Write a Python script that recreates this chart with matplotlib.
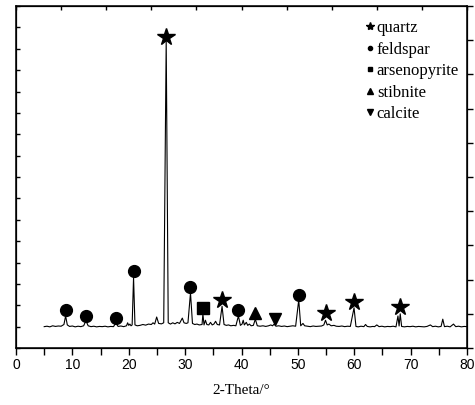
"""
XRD pattern of the ore sample with phase markers.
"""
import matplotlib
matplotlib.use('Agg')
import matplotlib.pyplot as plt
from matplotlib.lines import Line2D

# measured trace (2-theta in degrees, intensity in counts)
two_theta = [5.0, 5.5, 6.0, 6.5, 7.0, 7.5, 8.0, 8.5, 8.8, 9.1, 9.5, 10.0, 10.5, 11.0,
             11.5, 12.0, 12.4, 12.8, 13.3, 13.8, 14.3, 14.8, 15.3, 15.8, 16.3, 16.8,
             17.3, 17.7, 18.1, 18.6, 19.1, 19.6, 19.8, 20.0, 20.2, 20.4, 20.6, 20.85,
             21.1, 21.5, 22.0, 22.5, 23.0, 23.5, 24.0, 24.3, 24.6, 24.95, 25.3, 25.8,
             26.2, 26.64, 27.0, 27.4, 27.8, 28.2, 28.6, 29.0, 29.5, 29.8, 30.2, 30.5,
             30.95, 31.3, 31.7, 32.1, 32.5, 33.0, 33.15, 33.35, 33.6, 33.85, 34.2, 34.5,
             34.8, 35.1, 35.4, 35.7, 36.1, 36.55, 36.9, 37.3, 37.7, 38.1, 38.6, 39.0,
             39.45, 39.8, 40.1, 40.3, 40.5, 40.85, 41.1, 41.4, 41.7, 42.1, 42.45, 42.8,
             43.3, 43.8, 44.3, 44.8, 45.2, 45.5, 45.8, 46.1, 46.6, 47.1, 47.6, 48.1,
             48.6, 49.1, 49.6, 50.15, 50.5, 50.9, 51.2, 51.7, 52.2, 52.7, 53.2, 53.7,
             54.2, 54.6, 54.9, 55.2, 55.5, 55.9, 56.4, 56.8, 57.3, 57.8, 58.3, 58.8,
             59.3, 59.96, 60.3, 60.7, 61.2, 61.7, 62.0, 62.3, 62.8, 63.3, 63.6, 64.0,
             64.4, 64.9, 65.4, 65.9, 66.4, 66.9, 67.4, 67.75, 67.95, 68.15, 68.4, 68.9,
             69.4, 69.9, 70.4, 70.9, 71.4, 71.9, 72.4, 72.9, 73.5, 73.9, 74.4, 74.9,
             75.4, 75.7, 76.0, 76.5, 77.0, 77.6, 78.0, 78.5, 79.0, 79.5, 80.0]
intensity = [100, 102, 99, 104, 101, 103, 102, 110, 150, 108, 101, 103, 99, 102,
             100, 104, 128, 104, 100, 102, 99, 101, 100, 102, 99, 101,
             100, 118, 101, 103, 100, 104, 118, 106, 112, 104, 108, 330,
             108, 104, 106, 110, 107, 112, 110, 118, 112, 145, 115, 113,
             118, 1440, 118, 112, 118, 113, 120, 115, 140, 118, 115, 118,
             258, 115, 110, 112, 108, 110, 160, 108, 130, 110, 108, 120,
             108, 112, 125, 110, 108, 195, 110, 106, 108, 104, 106, 104,
             150, 106, 112, 130, 108, 120, 106, 112, 104, 106, 135, 104,
             102, 104, 101, 104, 108, 104, 112, 102, 104, 101, 103, 100,
             102, 104, 102, 225, 104, 115, 104, 102, 100, 103, 101, 102,
             103, 108, 130, 108, 112, 104, 106, 102, 101, 103, 100, 102,
             101, 188, 101, 99, 102, 100, 110, 101, 99, 101, 100, 108,
             100, 102, 99, 101, 100, 102, 99, 150, 103, 160, 101, 99,
             101, 100, 102, 99, 101, 100, 99, 101, 108, 100, 102, 99,
             101, 135, 100, 102, 99, 112, 100, 102, 99, 101, 100]

# phase markers (2-theta, marker height)
quartz_x = [26.64, 36.55, 54.9, 59.96, 68.15]
quartz_y = [1455, 225, 164, 215, 192]
feldspar_x = [8.8, 12.4, 17.7, 20.85, 30.95, 39.45, 50.15]
feldspar_y = [178, 150, 140, 360, 285, 178, 248]
arsenopyrite_x = [33.15]
arsenopyrite_y = [187]
stibnite_x = [42.45]
stibnite_y = [164]
calcite_x = [45.9]
calcite_y = [136]

serif = ['Liberation Serif', 'DejaVu Serif']

fig = plt.figure(figsize=(4.75, 4.05), dpi=100)
ax = fig.add_axes([0.0337, 0.1407, 0.9495, 0.8444])

ax.plot(two_theta, intensity, color='black', linewidth=0.8)

ax.plot(quartz_x, quartz_y, '*', color='black', markersize=13, linestyle='none')
ax.plot(feldspar_x, feldspar_y, 'o', color='black', markersize=8.5, linestyle='none')
ax.plot(arsenopyrite_x, arsenopyrite_y, 's', color='black', markersize=8, linestyle='none')
ax.plot(stibnite_x, stibnite_y, '^', color='black', markersize=8.5, linestyle='none')
ax.plot(calcite_x, calcite_y, 'v', color='black', markersize=8.5, linestyle='none')

ax.set_xlim(0, 80)
ax.set_ylim(0, 1600)
ax.set_xticks(range(0, 81, 10))
ax.set_xticks(range(5, 80, 10), minor=True)
ax.set_yticks(range(0, 1601, 100))
ax.set_yticklabels([])
ax.tick_params(axis='x', which='both', direction='out', length=5, width=1,
               labelsize=10, labelfontfamily='Liberation Sans', pad=2)
ax.tick_params(axis='y', direction='in', length=3, width=1)
for s in ax.spines.values():
    s.set_linewidth(1.1)

ax.set_xlabel('2-Theta/°', fontsize=11, family=serif, labelpad=9)

# secondary ticks on top and right
ax_top = ax.twiny()
ax_top.set_xlim(0, 80)
ax_top.set_xticks(range(0, 81, 8))
ax_top.set_xticklabels([])
ax_top.tick_params(axis='x', direction='in', length=3, width=1)

ax_right = ax.twinx()
ax_right.set_ylim(0, 10)
ax_right.set_yticks(range(0, 11))
ax_right.set_yticklabels([])
ax_right.tick_params(axis='y', direction='out', length=4, width=1)

handles = [
    Line2D([], [], marker='*', color='black', linestyle='none', markersize=6),
    Line2D([], [], marker='o', color='black', linestyle='none', markersize=3),
    Line2D([], [], marker='s', color='black', linestyle='none', markersize=3.5),
    Line2D([], [], marker='^', color='black', linestyle='none', markersize=5),
    Line2D([], [], marker='v', color='black', linestyle='none', markersize=5),
]
labels = ['quartz', 'feldspar', 'arsenopyrite', 'stibnite', 'calcite']
ax_right.legend(handles, labels, loc='upper left', bbox_to_anchor=(0.774, 0.959),
                frameon=False, handlelength=0.6, handletextpad=0.1,
                labelspacing=0.33, borderpad=0, borderaxespad=0,
                prop={'family': serif, 'size': 12})

plt.savefig('out.png', dpi=100)
